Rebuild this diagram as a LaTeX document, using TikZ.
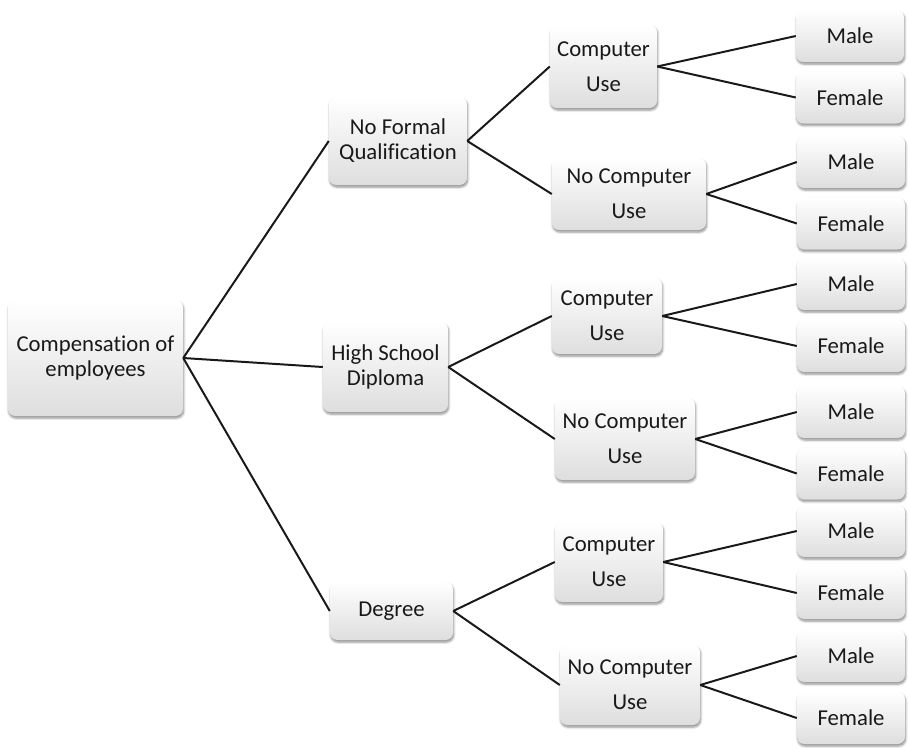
\documentclass[tikz,border=0pt]{standalone}
\usepackage{fontspec}
\setmainfont[Ligatures=NoCommon]{Carlito}
\usetikzlibrary{shadows.blur}

\newcommand{\pxu}{0.03cm}

\tikzset{
  box/.style={rounded corners=0.22cm, top color=white, bottom color=black!13,
    blur shadow={shadow xshift=0.6pt, shadow yshift=-1.8pt, shadow blur steps=6, shadow opacity=45},
    align=center, inner sep=0pt, text=black!90, font={\fontsize{19.4}{21.3}\selectfont}},
  usebox/.style={box, font={\fontsize{19.4}{29.8}\selectfont}},
  leaf/.style={box, minimum width=108*\pxu, minimum height=52*\pxu},
  sz/.style 2 args={minimum width=#1*\pxu, minimum height=#2*\pxu},
  link/.style={line width=1.7pt, black!90}
}

\begin{document}
\begin{tikzpicture}[x=0.03cm, y=-0.03cm]
\useasboundingbox (0,0) rectangle (908,748);

\node[box, sz={175}{116}] (comp) at (95.5,358) {Compensation of\\employees}; % root
\node[box, sz={138}{88}] (nfq) at (398,141) {No Formal\\Qualification}; % level 1
\node[box, sz={125}{90}] (hsd) at (385.5,367) {High School\\Diploma};
\node[box, sz={123}{58}] (deg) at (391.5,611) {Degree};

\node[usebox, sz={107}{83}] (cuA) at (603.5,66.5) {Computer\\Use}; % level 2
\node[usebox, sz={154}{72}] (ncuA) at (629,194) {No Computer\\Use};
\node[usebox, sz={110}{76}] (cuB) at (607,316) {Computer\\Use};
\node[usebox, sz={140}{82}] (ncuB) at (625,439) {No Computer\\Use};
\node[usebox, sz={108}{80}] (cuC) at (609,562) {Computer\\Use};
\node[usebox, sz={140}{80}] (ncuC) at (630,685) {No Computer\\Use};

\node[leaf] (mA1) at (850,36) {Male}; % level 3
\node[leaf] (fA1) at (850,97.5) {Female};
\node[leaf] (mA2) at (851,162) {Male};
\node[leaf] (fA2) at (851,223.5) {Female};
\node[leaf] (mB1) at (851,284) {Male};
\node[leaf] (fB1) at (851,346) {Female};
\node[leaf] (mB2) at (851,412) {Male};
\node[leaf] (fB2) at (851,473.5) {Female};
\node[leaf] (mC1) at (851,531) {Male};
\node[leaf] (fC1) at (851,593) {Female};
\node[leaf] (mC2) at (851,656) {Male};
\node[leaf] (fC2) at (851,718) {Female};

\draw[link] (comp.east) -- (nfq.west); % root to level 1
\draw[link] (comp.east) -- (hsd.west);
\draw[link] (comp.east) -- (deg.west);

\draw[link] (nfq.east) -- (cuA.west); % level 1 to level 2
\draw[link] (nfq.east) -- (ncuA.west);
\draw[link] (hsd.east) -- (cuB.west);
\draw[link] (hsd.east) -- (ncuB.west);
\draw[link] (deg.east) -- (cuC.west);
\draw[link] (deg.east) -- (ncuC.west);

\draw[link] (cuA.east) -- (mA1.west); % level 2 to level 3
\draw[link] (cuA.east) -- (fA1.west);
\draw[link] (ncuA.east) -- (mA2.west);
\draw[link] (ncuA.east) -- (fA2.west);
\draw[link] (cuB.east) -- (mB1.west);
\draw[link] (cuB.east) -- (fB1.west);
\draw[link] (ncuB.east) -- (mB2.west);
\draw[link] (ncuB.east) -- (fB2.west);
\draw[link] (cuC.east) -- (mC1.west);
\draw[link] (cuC.east) -- (fC1.west);
\draw[link] (ncuC.east) -- (mC2.west);
\draw[link] (ncuC.east) -- (fC2.west);

\end{tikzpicture}
\end{document}
